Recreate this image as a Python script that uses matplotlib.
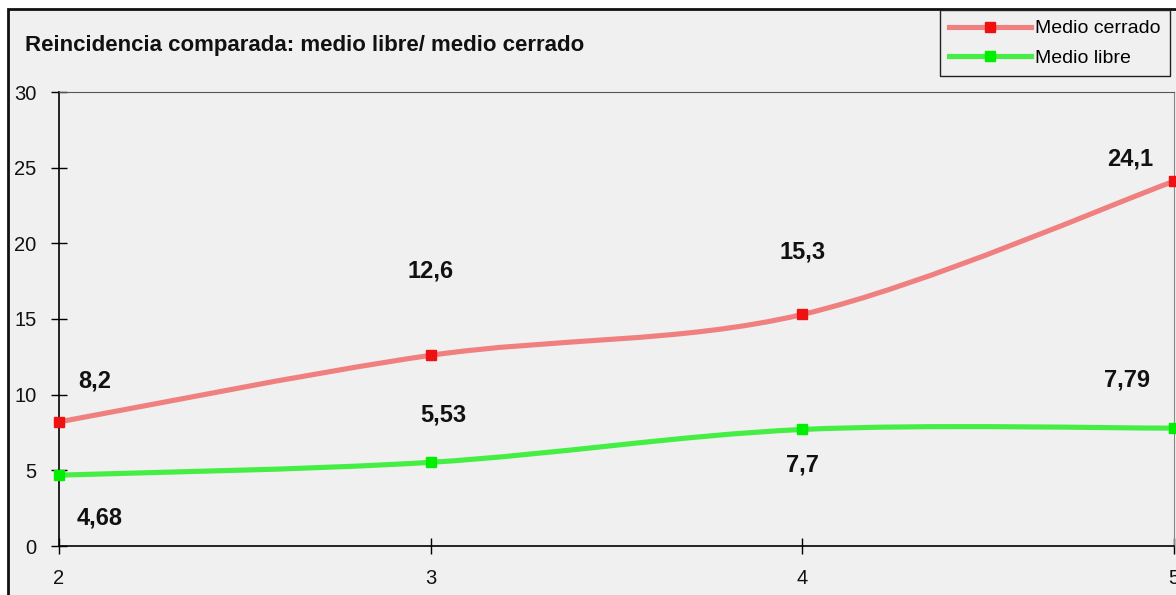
# Reincidencia comparada: medio libre / medio cerrado
import numpy as np
import matplotlib.pyplot as plt
from matplotlib.path import Path
from matplotlib.patches import PathPatch, Rectangle
from matplotlib.lines import Line2D

# --- datos ---
anios = [2, 3, 4, 5]
medio_cerrado = [8.2, 12.6, 15.3, 24.1]
medio_libre = [4.68, 5.53, 7.7, 7.79]
etiquetas_cerrado = ['8,2', '12,6', '15,3', '24,1']
etiquetas_libre = ['4,68', '5,53', '7,7', '7,79']

plt.rcParams['font.family'] = ['Liberation Sans', 'DejaVu Sans']

BG = '#f0f0f0'
ROJO_LINEA, ROJO_MARCA = '#f08080', '#ee1111'
VERDE_LINEA, VERDE_MARCA = '#44ee44', '#00ee00'


def curva_suave(xs, ys):
    # suavizado tipo Excel (Catmull-Rom -> Bezier cubica)
    pts = np.column_stack([xs, ys]).astype(float)
    ext = np.vstack([pts[0], pts, pts[-1]])
    verts, codes = [pts[0]], [Path.MOVETO]
    for i in range(1, len(ext) - 2):
        p0, p1, p2, p3 = ext[i - 1], ext[i], ext[i + 1], ext[i + 2]
        verts += [p1 + (p2 - p0) / 6, p2 - (p3 - p1) / 6, p2]
        codes += [Path.CURVE4] * 3
    return Path(verts, codes)


fig = plt.figure(figsize=(11.76, 5.95), dpi=100)
fig.patch.set_facecolor('white')
# marco del grafico
fig.patches.append(Rectangle((8 / 1176, -0.05), 1.2, (595 - 8) / 595 + 0.05 - 0.002,
                             transform=fig.transFigure, facecolor=BG,
                             edgecolor='#111111', linewidth=2, zorder=-10))

ax = fig.add_axes([59 / 1176, 49 / 595, 1115 / 1176, 454 / 595])
ax.set_facecolor(BG)

for ys, lc, mc in [(medio_cerrado, ROJO_LINEA, ROJO_MARCA),
                   (medio_libre, VERDE_LINEA, VERDE_MARCA)]:
    ax.add_patch(PathPatch(curva_suave(anios, ys), facecolor='none', edgecolor=lc,
                           linewidth=3.7, capstyle='round', joinstyle='round',
                           zorder=3, clip_on=False))
    ax.plot(anios, ys, linestyle='none', marker='s', markersize=7.5,
            color=mc, zorder=4, clip_on=False)

desp_cerrado = [(36, 41), (0, 84), (0, 62), (-44, 22)]
desp_libre = [(41, -43), (13, 47), (0, -36), (-47, 48)]
for ys, labs, desp in [(medio_cerrado, etiquetas_cerrado, desp_cerrado),
                       (medio_libre, etiquetas_libre, desp_libre)]:
    for x, y, t, d in zip(anios, ys, labs, desp):
        ax.annotate(t, (x, y), xytext=d, textcoords='offset pixels',
                    ha='center', va='center', fontsize=17, fontweight='bold',
                    color='#111111', annotation_clip=False)

ax.set_xlim(2, 5)
ax.set_ylim(0, 30)
ax.set_xticks(anios)
ax.set_yticks(range(0, 31, 5))
ax.tick_params(direction='inout', length=11.5, width=1, labelsize=14.5,
               colors='black', labelcolor='#111111', pad=10.5)
ax.spines['left'].set_linewidth(1.2)
ax.spines['bottom'].set_linewidth(1.2)
ax.spines['top'].set_color('#555555')
ax.spines['right'].set_color('#888888')

fig.text(25 / 1176, 1 - 45 / 595, 'Reincidencia comparada: medio libre/ medio cerrado',
         fontsize=16, fontweight='bold', ha='left', va='center', color='#111111')

handles = [Line2D([], [], color=ROJO_LINEA, linewidth=3.7, marker='s', markersize=7.5,
                  markerfacecolor=ROJO_MARCA, markeredgecolor=ROJO_MARCA),
           Line2D([], [], color=VERDE_LINEA, linewidth=3.7, marker='s', markersize=7.5,
                  markerfacecolor=VERDE_MARCA, markeredgecolor=VERDE_MARCA)]
leg = fig.legend(handles, ['Medio cerrado', 'Medio libre'], loc='upper right',
                 bbox_to_anchor=(1170 / 1176, 1 - 10 / 595), fontsize=14,
                 frameon=True, fancybox=False, facecolor=BG, edgecolor='#222222',
                 framealpha=1, handlelength=4.2, handletextpad=0.2,
                 borderpad=0.5, labelspacing=0.6, borderaxespad=0)
leg.get_frame().set_linewidth(1)

fig.savefig('out.png', dpi=100, facecolor=fig.get_facecolor())
